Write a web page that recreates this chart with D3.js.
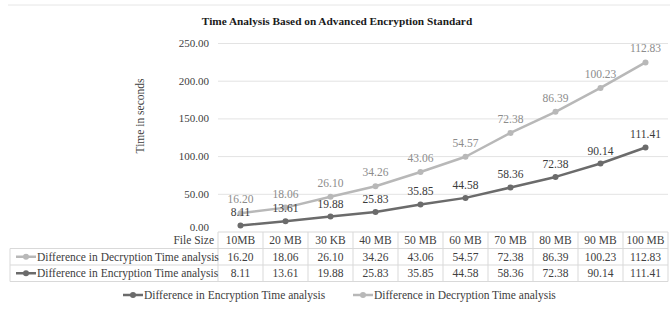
<!DOCTYPE html>
<html><head><meta charset="utf-8">
<script src="https://cdn.jsdelivr.net/npm/d3@7"></script>
<style>body{margin:0;background:#fff}svg{display:block}svg text{font-family:"Liberation Serif","Times New Roman",Times,"DejaVu Serif",serif}</style>
</head><body>
<script>
const categories = ["10MB","20 MB","30 KB","40 MB","50 MB","60 MB","70 MB","80 MB","90 MB","100 MB"];
const encryption = [8.11,13.61,19.88,25.83,35.85,44.58,58.36,72.38,90.14,111.41];
const decryption = [16.20,18.06,26.10,34.26,43.06,54.57,72.38,86.39,100.23,112.83];
const yTicks = [0,50,100,150,200,250];
const seriesNames = ["Difference in Encryption Time analysis","Difference in Decryption Time analysis"];
const title = "Time Analysis Based on Advanced Encryption Standard";
const yTitle = "Time in seconds";
const xTitle = "File Size";

const W=670,H=332, fs=11.5;
const svg=d3.select("body").append("svg").attr("width",W).attr("height",H);
const darkC="#6b6b6b", lightC="#b8b8b8", textC="#404040", gridC="#e3e3e3", borderC="#d9d9d9";

svg.append("line").attr("x1",8).attr("x2",670).attr("y1",5).attr("y2",5).attr("stroke","#e6e6e6");

const x=d3.scaleBand().domain(categories).range([218,668]);
const y=d3.scaleLinear().domain([0,250]).range([231.5,43]);

svg.append("text").attr("x",337).attr("y",25).attr("text-anchor","middle").attr("font-weight","bold").attr("font-size",11.3).attr("fill","#1a1a1a").text(title);

const yAxis=d3.axisLeft(y).tickValues(yTicks).tickFormat(d3.format(".2f")).tickSize(-(668-218)).tickPadding(9);
const ga=svg.append("g").attr("transform","translate(218,0)").call(yAxis).attr("font-family",null);
ga.select(".domain").remove();
ga.selectAll(".tick line").attr("stroke",gridC);
ga.selectAll(".tick text").attr("font-size",11).attr("fill",textC);
ga.selectAll(".tick").filter(d=>d===0).select("line").remove();
ga.selectAll(".tick").filter(d=>d===0).select("text").attr("dy","-0.1em");

svg.append("text").attr("transform","translate(144,116) rotate(-90)").attr("text-anchor","middle").attr("font-size",fs).attr("fill",textC).text(yTitle);

const rows=categories.map((c,i)=>({cat:c,enc:encryption[i],dec:decryption[i]}));
const stack=d3.stack().keys(["enc","dec"])(rows);
const cx=c=>x(c)+x.bandwidth()/2;
const line=d3.line().x(d=>cx(d.data.cat)).y(d=>y(d[1]));

const styles=[{c:darkC,lc:"#3a3a3a",off:13,key:"enc"},{c:lightC,lc:"#8c8c8c",off:14,key:"dec"}];
[1,0].forEach(k=>{
  const s=stack[k], st=styles[k];
  svg.append("path").datum(s).attr("d",line).attr("fill","none").attr("stroke",st.c).attr("stroke-width",2.5).attr("stroke-linejoin","round");
  svg.append("g").selectAll("circle").data(s).join("circle").attr("cx",d=>cx(d.data.cat)).attr("cy",d=>y(d[1])).attr("r",3).attr("fill",st.c);
});
[1,0].forEach(k=>{
  const s=stack[k], st=styles[k];
  svg.append("g").selectAll("text").data(s).join("text").attr("x",d=>cx(d.data.cat)).attr("y",d=>y(d[1])-st.off+4)
    .attr("text-anchor","middle").attr("font-size",fs).attr("fill",st.lc).text(d=>d3.format(".2f")(d.data[st.key]));
});

const tTop=232, rh=16.5, tLeft=10;
const tg=svg.append("g");
tg.append("line").attr("x1",218).attr("x2",668).attr("y1",tTop).attr("y2",tTop).attr("stroke",borderC);
[1,2,3].forEach(r=>tg.append("line").attr("x1",tLeft).attr("x2",668).attr("y1",tTop+r*rh).attr("y2",tTop+r*rh).attr("stroke",borderC));
tg.append("line").attr("x1",tLeft).attr("x2",tLeft).attr("y1",tTop+rh).attr("y2",tTop+3*rh).attr("stroke",borderC);
tg.selectAll(".vl").data(categories.concat(["end"])).join("line")
  .attr("x1",(d,i)=>218+i*x.bandwidth()).attr("x2",(d,i)=>218+i*x.bandwidth())
  .attr("y1",tTop).attr("y2",tTop+3*rh).attr("stroke",borderC);
tg.selectAll(".hd").data(categories).join("text").attr("x",d=>cx(d)).attr("y",tTop+rh/2+4).attr("text-anchor","middle").attr("font-size",fs).attr("fill",textC).text(d=>d);
svg.append("text").attr("x",214).attr("y",tTop+rh/2+4).attr("text-anchor","end").attr("font-size",fs).attr("fill",textC).text(xTitle);

const tableRows=[{name:seriesNames[1],vals:decryption,c:lightC},{name:seriesNames[0],vals:encryption,c:darkC}];
tableRows.forEach((r,ri)=>{
  const yc=tTop+rh*(ri+1)+rh/2;
  tg.selectAll(null).data(r.vals).join("text").attr("x",(d,i)=>cx(categories[i])).attr("y",yc+4).attr("text-anchor","middle").attr("font-size",fs).attr("fill",textC).text(d=>d3.format(".2f")(d));
  tg.append("line").attr("x1",16).attr("x2",36).attr("y1",yc).attr("y2",yc).attr("stroke",r.c).attr("stroke-width",2.5);
  tg.append("circle").attr("cx",26).attr("cy",yc).attr("r",3).attr("fill",r.c);
  tg.append("text").attr("x",37).attr("y",yc+4).attr("font-size",fs).attr("fill",textC).text(r.name);
});

const legend=[{name:seriesNames[0],c:darkC,x:123},{name:seriesNames[1],c:lightC,x:353}];
legend.forEach(l=>{
  const g=svg.append("g");
  g.append("line").attr("x1",l.x).attr("x2",l.x+20).attr("y1",295).attr("y2",295).attr("stroke",l.c).attr("stroke-width",2.5);
  g.append("circle").attr("cx",l.x+10).attr("cy",295).attr("r",3).attr("fill",l.c);
  g.append("text").attr("x",l.x+21).attr("y",299).attr("font-size",fs).attr("fill",textC).text(l.name);
});
</script>
</body></html>
